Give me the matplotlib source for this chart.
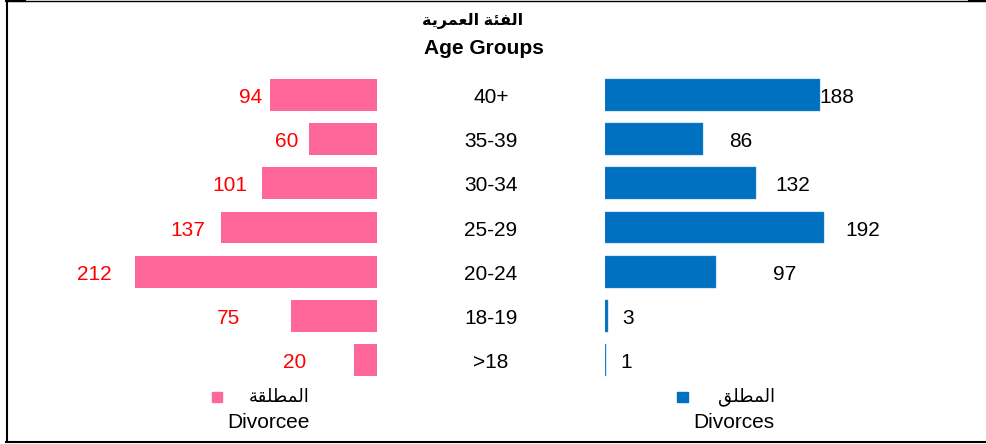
import matplotlib
matplotlib.use('Agg')
import matplotlib.pyplot as plt
from matplotlib.transforms import blended_transform_factory, offset_copy
from matplotlib.lines import Line2D
from matplotlib.patches import Rectangle

plt.rcParams['font.family'] = ['Liberation Sans', 'DejaVu Sans']

# ---- data ----
age_groups = ['40+', '35-39', '30-34', '25-29', '20-24', '18-19', '>18']
divorcee = [94, 60, 101, 137, 212, 75, 20]
divorces = [188, 86, 132, 192, 97, 3, 1]

# Arabic text written with presentation forms in visual order
title_ar = '\uFE94\uFEF3\uFEAE\uFEE4\uFECC\uFEDF\uFE8D \uFE94\uFE8C\uFED4\uFEDF\uFE8D'  # الفئة العمرية
title_en = 'Age Groups'
legend_left_ar = '\uFE94\uFED8\uFEE0\uFEC4\uFEE4\uFEDF\uFE8D'  # المطلقة
legend_left_en = 'Divorcee'
legend_right_ar = '\uFED6\uFEE0\uFEC4\uFEE4\uFEDF\uFE8D'  # المطلق
legend_right_en = 'Divorces'

# ---- styling / placement ----
left_gap_px = [7, 10, 14, 15, 23, 51, 48]
right_gap_px = [0, 26, 20, 21, 57, 14, 14]
pink = '#FF6699'
blue = '#0070C0'

W, H = 986, 444
fig = plt.figure(figsize=(W / 100, H / 100), dpi=100)


def fy(p):
    return 1 - p / H


scale = 1.141  # px per unit
y_top = 95 - 22.1
y_bot = 360 + 22.1
axL = fig.add_axes([60 / W, fy(y_bot), (377 - 60) / W, (y_bot - y_top) / H])
axR = fig.add_axes([605 / W, fy(y_bot), (940 - 605) / W, (y_bot - y_top) / H])
axL.set_xlim((377 - 60) / scale, 0)
axR.set_xlim(0, (940 - 605) / scale)
for ax in (axL, axR):
    ax.set_ylim(len(age_groups) - 0.5, -0.5)
    ax.axis('off')

ypos = list(range(len(age_groups)))
axL.barh(ypos, divorcee, height=0.72, color=pink)
axR.barh(ypos, divorces, height=0.72, color=blue, edgecolor='#3A8FD6',
         linewidth=0.3)

pt = 0.72  # px -> points
dy = -2.5 * pt
for i, v in enumerate(divorcee):
    axL.annotate(str(v), xy=(v, i), xytext=(-left_gap_px[i] * pt, dy),
                 textcoords='offset points', ha='right', va='center',
                 color='#FF0000', fontsize=15)
for i, v in enumerate(divorces):
    axR.annotate(str(v), xy=(v, i), xytext=(right_gap_px[i] * pt, dy),
                 textcoords='offset points', ha='left', va='center',
                 color='black', fontsize=15)

tr = blended_transform_factory(fig.transFigure, axL.transData)
tr = offset_copy(tr, fig=fig, x=0, y=dy, units='points')
for i, lab in enumerate(age_groups):
    axL.text(491 / W, i, lab, transform=tr, ha='center', va='center',
             fontsize=15, color='black')

# title
fig.text(473 / W, fy(21), title_ar, ha='center', va='center',
         fontsize=11.5, fontweight='bold')
fig.text(484 / W, fy(49), title_en, ha='center', va='center',
         fontsize=15, fontweight='bold')

# legends
fig.add_artist(Rectangle((212 / W, fy(402)), 10 / W, 10 / H,
                         transform=fig.transFigure, color=pink))
fig.add_artist(Rectangle((677 / W, fy(402)), 11 / W, 10 / H,
                         transform=fig.transFigure, color=blue))
fig.text(310 / W, fy(397), legend_left_ar, ha='right', va='center', fontsize=13)
fig.text(268 / W, fy(422), legend_left_en, ha='center', va='center', fontsize=15)
fig.text(775 / W, fy(397), legend_right_ar, ha='right', va='center', fontsize=13)
fig.text(734 / W, fy(422), legend_right_en, ha='center', va='center', fontsize=15)

# frame
lw = 1.5
fig.add_artist(Line2D([7 / W, 7 / W], [fy(0), fy(442)], color='black', lw=lw,
                      transform=fig.transFigure))
fig.add_artist(Line2D([6 / W, 1], [fy(442), fy(442)], color='black', lw=lw,
                      transform=fig.transFigure))
fig.add_artist(Line2D([6 / W, 1], [fy(0.6), fy(0.6)], color='black', lw=1.0,
                      transform=fig.transFigure))
fig.add_artist(Line2D([6 / W, 25 / W], [fy(1), fy(1)], color='black', lw=lw,
                      transform=fig.transFigure))
fig.add_artist(Line2D([969 / W, 1], [fy(1), fy(1)], color='black', lw=lw,
                      transform=fig.transFigure))

fig.savefig('out.png', dpi=100)
